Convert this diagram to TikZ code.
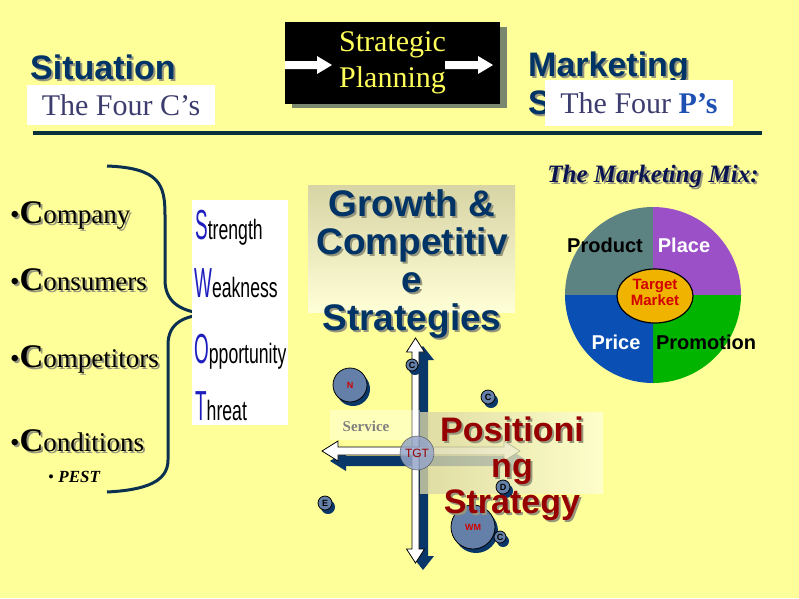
\documentclass[tikz,border=0pt]{standalone}
\usepackage{fontspec}
\setmainfont{Liberation Serif}
\setsansfont{Liberation Sans}
\usepackage{graphicx}

\definecolor{bgyellow}{RGB}{255,255,153}
\definecolor{titlenavy}{RGB}{0,51,102}
\definecolor{rulenavy}{RGB}{10,50,60}
\definecolor{bracenavy}{RGB}{12,48,80}
\definecolor{swotblue}{RGB}{30,30,190}
\definecolor{fancygray}{RGB}{60,60,110}
\definecolor{pblue}{RGB}{30,80,180}
\definecolor{shadowgray}{RGB}{150,150,125}
\definecolor{planshadow}{RGB}{120,135,110}
\definecolor{planyellow}{RGB}{255,255,90}
\definecolor{mixnavy}{RGB}{10,20,80}
\definecolor{pieteal}{RGB}{92,130,130}
\definecolor{piepurple}{RGB}{155,80,200}
\definecolor{pieblue}{RGB}{10,80,180}
\definecolor{piegreen}{RGB}{0,180,0}
\definecolor{pieorange}{RGB}{240,180,0}
\definecolor{targetred}{RGB}{210,0,0}
\definecolor{boxtan}{RGB}{215,212,165}
\definecolor{boxpale}{RGB}{255,255,215}
\definecolor{posred}{RGB}{150,0,0}
\definecolor{mapnavy}{RGB}{10,55,105}
\definecolor{bubblefill}{RGB}{100,128,168}
\definecolor{tgtfill}{RGB}{150,165,200}

\tikzset{
  titlesans/.style={anchor=base west, inner sep=0pt, text=titlenavy,
    font=\fontsize{34}{36}\selectfont\bfseries\sffamily},
  fancybox/.style={fill=white, inner sep=0pt, text=fancygray,
    font=\fontsize{30}{30}\selectfont},
  planbox/.style={fill=black, text=planyellow, align=center, inner sep=0pt,
    font=\fontsize{30}{36}\selectfont},
  listitem/.style={anchor=base west, inner sep=0pt, font=\fontsize{27}{30}\selectfont},
  swotline/.style={anchor=base west, inner sep=0pt},
  pielabel/.style={inner sep=0pt, font=\fontsize{20}{20}\selectfont\bfseries\sffamily},
  bigsans/.style={align=center, inner sep=0pt, text=titlenavy,
    font=\fontsize{37}{38}\selectfont\bfseries\sffamily},
  possans/.style={align=center, inner sep=0pt, text=posred,
    font=\fontsize{34}{36}\selectfont\bfseries\sffamily},
  bubble/.style={circle, draw=black, fill=bubblefill, inner sep=0pt, line width=0.8pt,
    font=\fontsize{9}{9}\selectfont\bfseries\sffamily},
  whitearrow/.style={fill=white, draw=black, line width=0.8pt},
  shadearrow/.style={fill=mapnavy}
}

% text with a grey drop shadow
\newcommand{\dropnode}[4]{%
  \node[#3, text=shadowgray] at ([shift={(2,2)}]#2) {#4};
  \node[#3] (#1) at (#2) {#4};}
% bubble with navy shadow
\newcommand{\bub}[5]{%
  \fill[mapnavy] ([shift={(3,4)}]#2) circle[radius=#3/2];
  \node[bubble, minimum size=#3, text=#5] (#1) at (#2) {#4};}
\newcommand{\bigC}[1]{{\fontsize{33}{33}\selectfont\bfseries C}#1}
\newcommand{\swot}[2]{\textcolor{swotblue}{\scalebox{0.45}[1]{\fontsize{42}{42}\selectfont\sffamily #1}}%
  \scalebox{0.63}[1]{\fontsize{28}{28}\selectfont\sffamily #2}}

\begin{document}
\begin{tikzpicture}[x=1pt,y=-1pt]
\fill[bgyellow] (0,0) rectangle (799,598);
\useasboundingbox (0,0) rectangle (799,598);

% headings
\dropnode{sit}{30,79}{titlesans}{Situation}
\node[fancybox, minimum width=188, minimum height=40] (fourc) at (121,105) {The Four C's};
\dropnode{mkt}{528,76}{titlesans}{Marketing}
\dropnode{mkts}{528,114}{titlesans}{S}
\node[fancybox, minimum width=188, minimum height=46] (fourp) at (639,103)
  {The Four {\bfseries\textcolor{pblue}{P's}}};
\draw[rulenavy, line width=4] (33,133) -- (762,133);

% strategic planning
\fill[planshadow] (292,27) rectangle (507,108);
\node[planbox, minimum width=215, minimum height=82] (plan) at (392.5,63) {Strategic\\Planning};
\fill[white] (285,61) -- (317,61) -- (317,56) -- (332,65) -- (317,74) -- (317,69) -- (285,69) -- cycle;
\fill[white] (445,61) -- (478,61) -- (478,56) -- (493,65) -- (478,74) -- (478,69) -- (445,69) -- cycle;

% marketing mix
\dropnode{mix}{653,176}{inner sep=0pt, text=mixnavy, font=\fontsize{25}{25}\selectfont\bfseries\itshape}{The Marketing Mix:}
\coordinate (pc) at (653,295);
\fill[pieteal] (pc) -- ++(-88,0) arc[start angle=180, end angle=270, radius=88] -- cycle;
\fill[piepurple] (pc) -- ++(0,-88) arc[start angle=270, end angle=360, radius=88] -- cycle;
\fill[piegreen] (pc) -- ++(88,0) arc[start angle=0, end angle=90, radius=88] -- cycle;
\fill[pieblue] (pc) -- ++(0,88) arc[start angle=90, end angle=180, radius=88] -- cycle;
\draw[fill=pieorange, line width=1.2pt] (655,296) ellipse [x radius=38, y radius=27];
\node[pielabel] (product) at (605,245) {Product};
\node[pielabel, text=white] (place) at (684,245) {Place};
\node[pielabel, text=white] (price) at (616,342) {Price};
\node[pielabel] (promo) at (706,342) {Promotion};
\node[inner sep=0pt, align=center, text=targetred, font=\fontsize{15}{16}\selectfont\bfseries\sffamily]
  (target) at (655,292) {Target\\Market};

% the four C's
\dropnode{company}{10,223}{listitem}{\textbullet\bigC{ompany}}
\dropnode{consumers}{10,290}{listitem}{\textbullet\bigC{onsumers}}
\dropnode{competitors}{10,367}{listitem}{\textbullet\bigC{ompetitors}}
\dropnode{conditions}{10,451}{listitem}{\textbullet\bigC{onditions}}
\node[anchor=base west, inner sep=0pt, font=\fontsize{17}{17}\selectfont] (pest) at (48,482)
  {\textbullet\ \textbf{\textit{PEST}}};

% brace
\draw[bracenavy, line width=3] (107,166) .. controls (160,168) and (165,185) .. (165,215)
  -- (165,280) .. controls (165,305) and (185,312) .. (207,314);
\draw[bracenavy, line width=3] (207,314) .. controls (185,316) and (168,322) .. (168,345)
  -- (168,460) .. controls (168,482) and (145,490) .. (107,492);

% SWOT
\node[fill=white, minimum width=96, minimum height=225, anchor=north west] (swotbox) at (192,200) {};
\node[swotline] (s) at (195,239) {\swot{S}{trength}};
\node[swotline] (w) at (194,297) {\swot{W}{eakness}};
\node[swotline] (o) at (194,363) {\swot{O}{pportunity}};
\node[swotline] (t) at (195,420) {\swot{T}{hreat}};

% growth & competitive strategies
\shade[top color=boxtan, bottom color=boxpale] (308,185) rectangle (515,312);
\dropnode{growth}{412,264}{bigsans}{Growth \&\\Competitiv\\e\\Strategies}

% positioning map
\fill[shadearrow] (423,346) -- (434,360) -- (428,360) -- (428,556) -- (434,556) -- (423,570)
  -- (412,556) -- (418,556) -- (418,360) -- (412,360) -- cycle;
\fill[shadearrow] (330,461) -- (346,451) -- (346,456) -- (512,456) -- (512,451) -- (528,461)
  -- (512,471) -- (512,466) -- (346,466) -- (346,471) -- cycle;
\draw[whitearrow] (415.5,338) -- (424.5,352) -- (419,352) -- (419,549) -- (424.5,549) -- (415.5,563)
  -- (406.5,549) -- (412,549) -- (412,352) -- (406.5,352) -- cycle;
\draw[whitearrow] (322,451) -- (338,441) -- (338,447) -- (504,447) -- (504,441) -- (520,451)
  -- (504,461) -- (504,455) -- (338,455) -- (338,461) -- cycle;
\fill[white, opacity=0.35] (330,410) rectangle (420,440);
\node[inner sep=0pt, text=gray, font=\fontsize{15}{15}\selectfont\bfseries] (service) at (366,426) {Service};
\bub{n}{350,385}{34}{N}{targetred}
\bub{e}{325,503}{14}{E}{black}
\bub{c1}{412,365}{12}{C}{black}
\bub{c2}{488,397}{14}{C}{black}
\bub{wm}{473,527}{44}{WM}{targetred}
\bub{c3}{500,537}{12}{C}{black}

% positioning strategy
\shade[left color=boxtan, right color=boxpale, opacity=0.8] (420,412) rectangle (603,493);
\node[circle, draw=black!70, fill=tgtfill, fill opacity=0.85, text opacity=1, minimum size=34, inner sep=0pt,
  text=posred, font=\fontsize{12}{12}\selectfont\sffamily] (tgt) at (417,453) {TGT};
\bub{d}{503,487}{14}{D}{black}
\dropnode{pos}{512,469}{possans}{Positioni\\ng\\Strategy}
\end{tikzpicture}
\end{document}
